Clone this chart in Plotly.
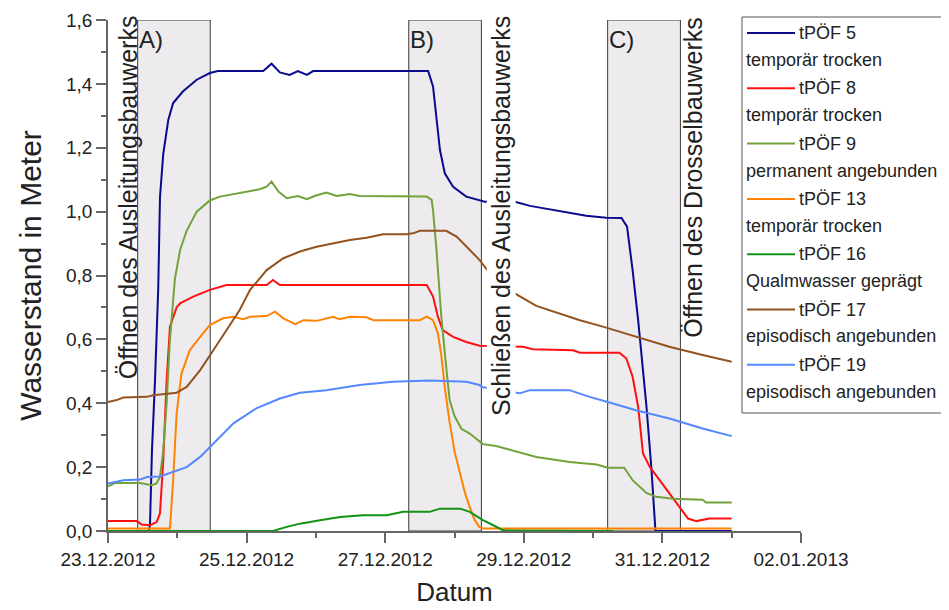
import plotly.graph_objects as go
import pandas as pd

start = pd.Timestamp("2012-12-23")

# Zeit in Tagen ab 23.12.2012 00:00, Wasserstand in m
t5 = [0, 0.59, 0.606, 0.634, 0.678, 0.725, 0.75, 0.797, 0.87, 0.94, 1.08, 1.28, 1.47, 1.586, 2.24, 2.36,
      2.48, 2.62, 2.74, 2.87, 2.96, 4.62, 4.69, 4.74, 4.79, 4.86, 4.98, 5.17, 5.36, 5.45, 5.53, 5.87, 6.09,
      6.37, 6.66, 6.9, 7.19, 7.41, 7.49, 7.57, 7.65, 7.77, 7.84, 7.89, 7.9, 9.0]
w5 = [0, 0, 0.02, 0.25, 0.47, 0.76, 1.045, 1.18, 1.287, 1.34, 1.376, 1.413, 1.434, 1.44, 1.44, 1.463,
      1.436, 1.428, 1.44, 1.428, 1.44, 1.44, 1.392, 1.298, 1.193, 1.12, 1.078, 1.047, 1.037, 1.03, 1.04,
      1.031, 1.018, 1.007, 0.997, 0.987, 0.981, 0.98, 0.953, 0.817, 0.66, 0.39, 0.2, 0.01, 0, 0]

t8 = [0, 0.414, 0.486, 0.606, 0.702, 0.75, 0.797, 0.846, 0.894, 0.99, 1.04, 1.23, 1.47, 1.71, 2.29, 2.38,
      2.48, 4.6, 4.69, 4.76, 4.83, 4.98, 5.17, 5.36, 5.99, 6.13, 6.71, 6.81, 7.38, 7.48, 7.57, 7.65, 7.72,
      7.82, 7.96, 8.1, 8.25, 8.37, 8.49, 8.68, 9.0]
w8 = [0.031, 0.031, 0.02, 0.018, 0.028, 0.055, 0.22, 0.47, 0.64, 0.70, 0.713, 0.734, 0.755, 0.77, 0.77,
      0.786, 0.77, 0.77, 0.734, 0.671, 0.629, 0.608, 0.592, 0.58, 0.577, 0.569, 0.566, 0.558, 0.558, 0.54,
      0.483, 0.389, 0.243, 0.2, 0.159, 0.117, 0.075, 0.039, 0.031, 0.039, 0.039]

t9 = [0, 0.1, 0.46, 0.63, 0.70, 0.75, 0.797, 0.846, 0.894, 0.966, 1.04, 1.135, 1.28, 1.47, 1.615, 1.9,
      2.19, 2.29, 2.36, 2.46, 2.58, 2.74, 2.87, 2.98, 3.15, 3.3, 3.49, 3.63, 4.6, 4.67, 4.69, 4.74, 4.81,
      4.88, 4.93, 5.0, 5.1, 5.22, 5.41, 5.6, 5.94, 6.18, 6.66, 7.05, 7.21, 7.45, 7.57, 7.77, 7.91, 8.15,
      8.58, 8.63, 9.0]
w9 = [0.14, 0.15, 0.15, 0.143, 0.149, 0.17, 0.25, 0.40, 0.6, 0.79, 0.88, 0.94, 1.0, 1.035, 1.047, 1.058,
      1.07, 1.078, 1.094, 1.063, 1.042, 1.049, 1.039, 1.049, 1.06, 1.049, 1.055, 1.049, 1.047, 1.037,
      1.005, 0.88, 0.67, 0.514, 0.41, 0.36, 0.32, 0.305, 0.272, 0.266, 0.245, 0.232, 0.216, 0.208, 0.198,
      0.198, 0.159, 0.119, 0.107, 0.101, 0.098, 0.089, 0.089]

t13 = [0, 0.894, 0.94, 0.99, 1.06, 1.18, 1.37, 1.47, 1.66, 1.81, 1.95, 2.05, 2.29, 2.41, 2.53, 2.7, 2.82,
       3.01, 3.25, 3.34, 3.49, 3.73, 3.83, 4.5, 4.6, 4.69, 4.76, 4.81, 4.86, 4.93, 5.0, 5.08, 5.15, 5.22,
       5.29, 5.36, 5.42, 9.0]
w13 = [0.008, 0.008, 0.159, 0.368, 0.493, 0.566, 0.619, 0.645, 0.666, 0.671, 0.663, 0.671, 0.673, 0.687,
       0.666, 0.648, 0.66, 0.658, 0.671, 0.663, 0.671, 0.669, 0.66, 0.66, 0.671, 0.66, 0.619, 0.55, 0.45,
       0.34, 0.25, 0.18, 0.12, 0.075, 0.035, 0.012, 0.008, 0.008]

t16 = [0, 2.38, 2.58, 2.77, 3.06, 3.35, 3.68, 4.02, 4.26, 4.64, 4.79, 5.08, 5.22, 5.41, 5.56, 5.7, 7.29]
w16 = [0, 0, 0.013, 0.023, 0.034, 0.044, 0.049, 0.049, 0.06, 0.06, 0.07, 0.07, 0.06, 0.034, 0.018, 0.002, 0]

t17 = [0, 0.125, 0.22, 0.56, 0.65, 0.846, 0.99, 1.135, 1.33, 1.52, 1.71, 1.9, 2.05, 2.29, 2.53, 2.77,
       3.01, 3.25, 3.49, 3.73, 3.97, 4.31, 4.4, 4.5, 4.88, 5.03, 5.17, 5.36, 5.51, 5.87, 6.18, 6.52, 6.81,
       7.14, 7.62, 8.1, 8.58, 9.0]
w17 = [0.404, 0.41, 0.418, 0.42, 0.425, 0.429, 0.433, 0.451, 0.504, 0.566, 0.629, 0.692, 0.755, 0.817,
       0.854, 0.875, 0.89, 0.901, 0.911, 0.918, 0.929, 0.929, 0.932, 0.94, 0.94, 0.922, 0.89, 0.849, 0.807,
       0.744, 0.705, 0.681, 0.66, 0.64, 0.608, 0.577, 0.551, 0.53]

t19 = [0, 0.1, 0.22, 0.46, 0.56, 0.75, 0.94, 1.135, 1.33, 1.52, 1.81, 2.14, 2.48, 2.77, 3.15, 3.63, 4.11,
       4.64, 5.17, 5.36, 5.41, 5.94, 6.09, 6.66, 6.95, 7.21, 7.62, 8.1, 8.58, 9.0]
w19 = [0.149, 0.154, 0.159, 0.161, 0.169, 0.171, 0.185, 0.2, 0.232, 0.274, 0.337, 0.384, 0.415, 0.433,
       0.441, 0.457, 0.467, 0.471, 0.467, 0.457, 0.45, 0.431, 0.441, 0.441, 0.42, 0.404, 0.378, 0.352,
       0.321, 0.297]

names = ["tPÖF 5", "tPÖF 8", "tPÖF 9", "tPÖF 13", "tPÖF 16", "tPÖF 17", "tPÖF 19"]
descs = ["temporär trocken", "temporär trocken", "permanent angebunden", "temporär trocken",
         "Qualmwasser geprägt", "episodisch angebunden", "episodisch angebunden"]
colors = ["#0A0A8F", "#FF1010", "#72A23A", "#FF8200", "#139213", "#93531F", "#5587FF"]
times = [t5, t8, t9, t13, t16, t17, t19]
levels = [w5, w8, w9, w13, w16, w17, w19]

# Phasen (Tage ab Start)
phase_labels = ["A)", "B)", "C)"]
phase_start = [0.428, 4.34, 7.21]
phase_end = [1.475, 5.388, 8.26]

events = ["Öffnen des Ausleitungsbauwerks", "Schließen des Ausleitungsbauwerks", "Öffnen des Drosselbauwerks"]
event_x = [0.288, 5.68, 8.45]
event_y = [1.045, 0.985, 1.108]


def day(d):
    return start + pd.to_timedelta(d, unit="D")


font = "Liberation Sans, Arial, sans-serif"

fig = go.Figure()

for i in range(3):
    fig.add_shape(type="rect", xref="x", yref="y", x0=day(phase_start[i]), x1=day(phase_end[i]),
                  y0=0, y1=1.6, fillcolor="#EDEBED", line=dict(color="#3A3A3A", width=1), layer="below")
    fig.add_annotation(x=day(phase_start[i]), y=1.6, xref="x", yref="y", text=phase_labels[i],
                       showarrow=False, xanchor="left", yanchor="top", xshift=-1, yshift=-4,
                       font=dict(size=24, color="#222", family=font))

for t, w, n, c in zip(times, levels, names, colors):
    fig.add_trace(go.Scatter(x=[day(d) for d in t], y=w, mode="lines", name=n,
                             line=dict(color=c, width=2), showlegend=False))

for i in range(3):
    fig.add_annotation(x=day(event_x[i]), y=event_y[i], xref="x", yref="y", text=events[i],
                       textangle=-90, showarrow=False, xanchor="center", yanchor="middle",
                       bgcolor="white" if i == 1 else None, borderpad=0,
                       font=dict(size=25, color="#222", family=font))

# Legende von Hand (zweizeilig wie im Original)
def px(x):
    return (x - 108) / 693


def py(y):
    return (531 - y) / 511


fig.add_shape(type="rect", xref="paper", yref="paper", x0=px(742), x1=px(947), y0=py(413), y1=py(17),
              line=dict(color="#555", width=1), fillcolor="white")
for i in range(len(names)):
    yl = 33 + 55.3 * i
    fig.add_shape(type="line", xref="paper", yref="paper", x0=px(747), x1=px(795), y0=py(yl), y1=py(yl),
                  line=dict(color=colors[i], width=2))
    fig.add_annotation(x=px(797), y=py(yl), xref="paper", yref="paper", text=names[i], showarrow=False,
                       xanchor="left", yanchor="middle", font=dict(size=18, color="#222", family=font))
    fig.add_annotation(x=px(744), y=py(yl + 27), xref="paper", yref="paper", text=descs[i], showarrow=False,
                       xanchor="left", yanchor="middle", font=dict(size=18, color="#222", family=font))

# Seite hat 8 px Rand -> Figur entsprechend kleiner
fig.update_layout(
    width=941, height=602,
    margin=dict(l=100, r=148, t=12, b=79),
    plot_bgcolor="white", paper_bgcolor="white",
    separators=",.",
    font=dict(family=font, color="#222"),
)
fig.update_xaxes(
    range=[start, day(10)], type="date", tick0=start, dtick=2 * 86400000, tickformat="%d.%m.%Y",
    ticks="outside", ticklen=10, tickwidth=1.5, tickcolor="#666",
    minor=dict(dtick=86400000, ticks="outside", ticklen=5, tickwidth=1.5, tickcolor="#666"),
    showline=True, linecolor="#666", linewidth=1.5, showgrid=False, zeroline=False, automargin=False,
    tickfont=dict(size=19, color="#222"),
    title=dict(text="Datum", font=dict(size=26, color="#222"), standoff=14),
)
fig.update_yaxes(
    range=[0, 1.6], dtick=0.2, tickformat=".1f",
    ticks="outside", ticklen=10, tickwidth=1.5, tickcolor="#666",
    minor=dict(dtick=0.1, ticks="outside", ticklen=5, tickwidth=1.5, tickcolor="#666"),
    showline=True, linecolor="#666", linewidth=1.5, showgrid=False, zeroline=False, automargin=False,
    tickfont=dict(size=19, color="#222"),
    title=dict(text="Wasserstand in Meter", font=dict(size=30, color="#222"), standoff=16),
)

fig.write_html("out.html")
